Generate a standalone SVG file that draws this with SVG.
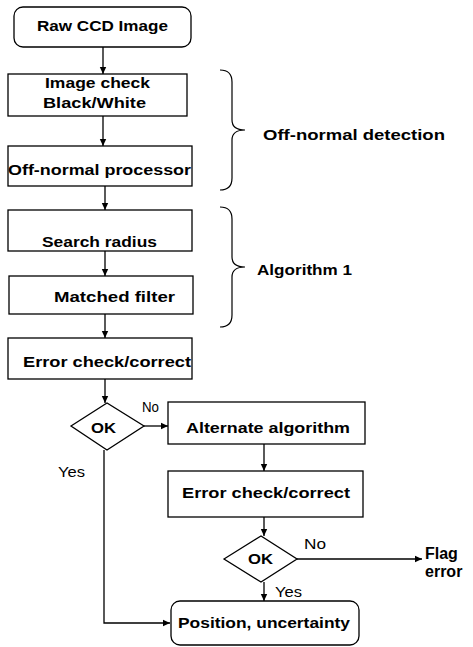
<svg xmlns="http://www.w3.org/2000/svg" width="473" height="647" viewBox="0 0 473 647">
<defs>
<marker id="ah" markerWidth="8" markerHeight="8" refX="7" refY="4" orient="auto" markerUnits="userSpaceOnUse">
<path d="M0,0.8 L7,4 L0,7.2 Z" fill="#000"/>
</marker>
<style>
.box{fill:#fff;stroke:#000;stroke-width:1.3}
.t{font-family:"Liberation Sans","DejaVu Sans",sans-serif;font-weight:bold;font-size:15px;fill:#000}
.l{font-family:"Liberation Sans","DejaVu Sans",sans-serif;font-size:14px;fill:#000}
.c{fill:none;stroke:#000;stroke-width:1.3}
.br{fill:none;stroke:#000;stroke-width:1.2}
</style>
</defs>
<rect width="473" height="647" fill="#fff"/>
<g id="connectors">
<line class="c" x1="103" y1="47" x2="103" y2="74" marker-end="url(#ah)"/>
<line class="c" x1="103" y1="116" x2="103" y2="146" marker-end="url(#ah)"/>
<line class="c" x1="105" y1="186" x2="105" y2="210" marker-end="url(#ah)"/>
<line class="c" x1="105" y1="251" x2="105" y2="276" marker-end="url(#ah)"/>
<line class="c" x1="105" y1="314" x2="105" y2="338" marker-end="url(#ah)"/>
<line class="c" x1="105" y1="379" x2="105" y2="403" marker-end="url(#ah)"/>
<line class="c" x1="144" y1="426" x2="168" y2="426" marker-end="url(#ah)"/>
<line class="c" x1="264" y1="444" x2="264" y2="471" marker-end="url(#ah)"/>
<line class="c" x1="264" y1="517" x2="264" y2="536" marker-end="url(#ah)"/>
<line class="c" x1="297" y1="559" x2="422" y2="559" marker-end="url(#ah)"/>
<line class="c" x1="264" y1="582" x2="264" y2="601" marker-end="url(#ah)"/>
<polyline class="c" points="104,450 104,623 170,623" marker-end="url(#ah)"/>
<text class="l" x="142" y="412" textLength="17" lengthAdjust="spacingAndGlyphs">No</text>
<text class="l" x="58" y="477" textLength="27" lengthAdjust="spacingAndGlyphs">Yes</text>
<text class="l" x="304" y="549" textLength="22" lengthAdjust="spacingAndGlyphs">No</text>
<text class="l" x="275" y="597" textLength="27" lengthAdjust="spacingAndGlyphs">Yes</text>
</g>
<g id="raw">
<rect class="box" x="14" y="7" width="177" height="40" rx="9"/>
<text class="t" x="37" y="31" textLength="131" lengthAdjust="spacingAndGlyphs">Raw CCD Image</text>
</g>
<g id="imagecheck">
<rect class="box" x="8" y="74" width="179" height="42"/>
<text class="t" x="45" y="88" textLength="105" lengthAdjust="spacingAndGlyphs">Image check</text>
<text class="t" x="43" y="108" textLength="103" lengthAdjust="spacingAndGlyphs">Black/White</text>
</g>
<g id="offnormal">
<rect class="box" x="8" y="146" width="184" height="40"/>
<text class="t" x="8" y="175" textLength="183" lengthAdjust="spacingAndGlyphs">Off-normal processor</text>
</g>
<g id="search">
<rect class="box" x="8" y="210" width="184" height="41"/>
<text class="t" x="42" y="247" textLength="115" lengthAdjust="spacingAndGlyphs">Search radius</text>
</g>
<g id="matched">
<rect class="box" x="9" y="276" width="184" height="38"/>
<text class="t" x="54" y="302" textLength="121" lengthAdjust="spacingAndGlyphs">Matched filter</text>
</g>
<g id="errcheck1">
<rect class="box" x="8" y="338" width="184" height="41"/>
<text class="t" x="23" y="367" textLength="168" lengthAdjust="spacingAndGlyphs">Error check/correct</text>
</g>
<g id="ok1">
<polygon class="box" points="71,426 107,403 144,426 107,450"/>
<text class="t" x="91" y="433" textLength="25" lengthAdjust="spacingAndGlyphs">OK</text>
</g>
<g id="alternate">
<rect class="box" x="168" y="402" width="197" height="42"/>
<text class="t" x="186" y="433" textLength="164" lengthAdjust="spacingAndGlyphs">Alternate algorithm</text>
</g>
<g id="errcheck2">
<rect class="box" x="168" y="471" width="195" height="46"/>
<text class="t" x="182" y="498" textLength="168" lengthAdjust="spacingAndGlyphs">Error check/correct</text>
</g>
<g id="ok2">
<polygon class="box" points="224,559 261,536 297,559 261,582"/>
<text class="t" x="248" y="564" textLength="25" lengthAdjust="spacingAndGlyphs">OK</text>
</g>
<g id="position">
<rect class="box" x="171" y="601" width="188" height="44" rx="9"/>
<text class="t" x="178" y="628" textLength="172" lengthAdjust="spacingAndGlyphs">Position, uncertainty</text>
</g>
<g id="flag">
<text class="t" x="425" y="559" style="font-size:16px">Flag</text>
<text class="t" x="425" y="577" style="font-size:16px">error</text>
</g>
<g id="brace1">
<path class="br" d="M220,70 Q232,70 232,82 L232,120 Q232,130 245,130 Q232,130 232,140 L232,178 Q232,190 220,190"/>
<text class="t" x="263" y="140" textLength="182" lengthAdjust="spacingAndGlyphs">Off-normal detection</text>
</g>
<g id="brace2">
<path class="br" d="M220,207 Q232,207 232,219 L232,257 Q232,267 245,267 Q232,267 232,277 L232,315 Q232,327 220,327"/>
<text class="t" x="257" y="275" textLength="95" lengthAdjust="spacingAndGlyphs">Algorithm 1</text>
</g>
</svg>
